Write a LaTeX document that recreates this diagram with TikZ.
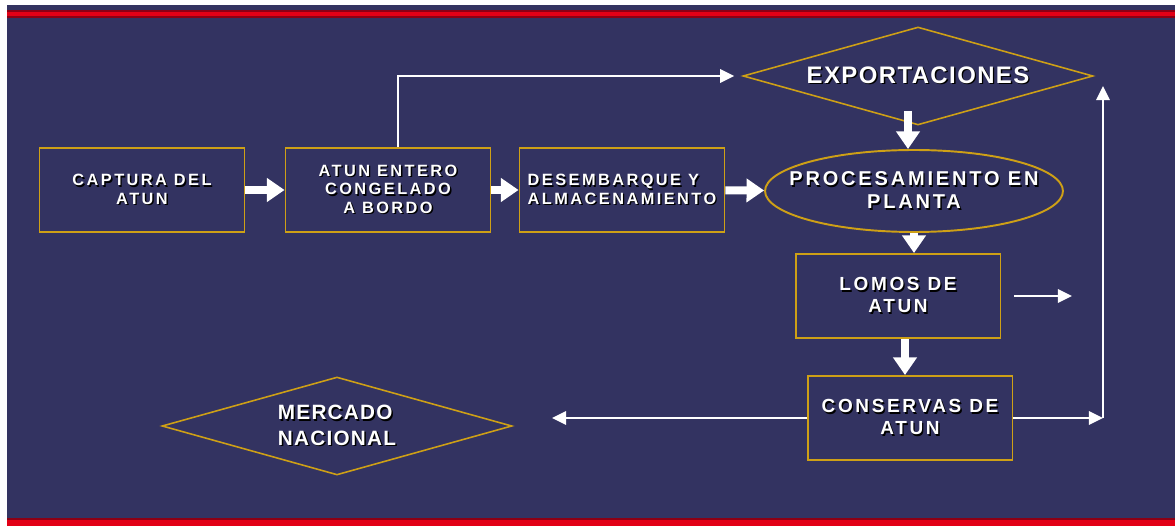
\documentclass[tikz,border=0pt]{standalone}
\usepackage{fontspec}
\setmainfont{Liberation Sans}
\newfontfamily\tagfont[LetterSpace=15]{Liberation Sans}
\newfontfamily\stepfont[LetterSpace=14]{Liberation Sans}
\newfontfamily\headfont[LetterSpace=6]{Liberation Sans}
\usetikzlibrary{shapes.geometric, arrows.meta}
\definecolor{slidenavy}{RGB}{51, 51, 97}
\definecolor{slidered}{RGB}{226, 0, 22}
\definecolor{darkred}{RGB}{140, 0, 20}
\definecolor{boxgold}{RGB}{206, 160, 22}
% white capitals with a dark drop shadow
\newcommand\shd[1]{\leavevmode\rlap{\kern0.8pt\raisebox{-0.8pt}{\color{black}#1}}\textcolor{white}{#1}}

\begin{document}
\begin{tikzpicture}[
  x=0.02cm, y=-0.02cm,
  box/.style={draw=boxgold, line width=1.1pt, minimum width=4.1cm, minimum height=1.68cm, inner sep=2pt, align=center,
    font=\tagfont\bfseries\fontsize{9.3}{10.6}\selectfont},
  bigbox/.style={box, font=\stepfont\bfseries\fontsize{10.8}{12.4}\selectfont},
  decision/.style={diamond, draw=boxgold, line width=0.9pt, aspect=3.5, minimum width=7cm, minimum height=1.96cm, inner sep=0pt, align=left},
  stage/.style={ellipse, draw=boxgold, line width=1.1pt, minimum width=5.96cm, minimum height=1.64cm, inner sep=0pt, align=center,
    font=\stepfont\bfseries\fontsize{11.4}{13}\selectfont},
  flow/.style={-{Triangle[length=10pt, width=13pt]}, line width=4.5pt, white},
  link/.style={-{Triangle[length=8pt, width=7.5pt]}, line width=1.5pt, white}
]
  \useasboundingbox (0,0) rectangle (1175,526);
  \fill[slidenavy] (7,5) rectangle (1175,526);
  \fill[darkred] (7,10) rectangle (1175,18);
  \fill[slidered] (7,12) rectangle (1175,16);
  \fill[darkred] (7,518) rectangle (1175,526);
  \fill[slidered] (7,520) rectangle (1175,526);

  \node[box] (captura) at (142,190) {\shd{CAPTURA DEL}\\\shd{ATUN}};
  \node[box] (entero) at (388,190) {\shd{ATUN ENTERO}\\\shd{CONGELADO}\\\shd{A BORDO}};
  \node[box, align=left] (desembarque) at (622,190) {\shd{DESEMBARQUE Y}\\\shd{ALMACENAMIENTO}};
  \node[stage] (proceso) at (914,191) {\makebox[0pt]{\shd{PROCESAMIENTO EN}}\\\makebox[0pt]{\shd{PLANTA}}};
  \node[decision, font=\headfont\bfseries\fontsize{13.6}{15}\selectfont] (export) at (918,76) {\shd{EXPORTACIONES}};
  \node[bigbox] (lomos) at (898,296) {\shd{LOMOS DE}\\\shd{ATUN}};
  \node[bigbox] (conservas) at (910,418) {\shd{CONSERVAS DE}\\\shd{ATUN}};
  \node[decision, font=\headfont\bfseries\fontsize{11.8}{14.5}\selectfont] (mercado) at (337,426) {\shd{MERCADO}\\\shd{NACIONAL}\hspace{0.35cm}};

  \coordinate (lomosout) at (1072,296);
  \coordinate (esquina) at (1103,418);
  \coordinate (exportin) at (1103,86);
  \coordinate (nacionalin) at (552,418);

  \draw[flow] (captura) -- (entero);
  \draw[flow] (entero) -- (desembarque);
  \draw[flow] (desembarque) -- (proceso);
  \draw[flow] ([xshift=-0.2cm, yshift=0.3cm]export.south) -- ([xshift=-0.2cm]export.south |- proceso.north);
  \draw[flow] (proceso.south) -- (proceso.south |- lomos.north);
  \draw[flow] ([xshift=0.14cm]lomos.south) -- ([xshift=0.14cm]lomos.south |- conservas.north);

  \draw[link, shorten >=0.16cm] ([xshift=0.2cm]entero.north) |- (export.west);
  \draw[link] ([xshift=0.26cm]lomos.east) -- (lomosout);
  \draw[link] (conservas.east) -- (esquina);
  \draw[link] (esquina) -- (exportin);
  \draw[link] (conservas.west) -- (nacionalin);
\end{tikzpicture}
\end{document}
